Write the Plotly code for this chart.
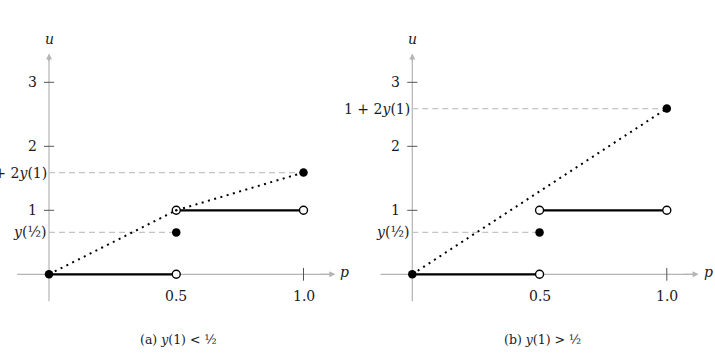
import plotly.graph_objects as go

# ---- data ----
P_TICKS = [0.5, 1.0]
P_TICK_LABELS = ["0.5", "1.0"]
U_TICKS = [1, 2, 3]
U_TICK_LABELS = ["1", "2", "3"]
Y_HALF = 0.655          # y(1/2)
Y1_A = 0.295            # y(1) in panel (a)
Y1_B = 0.795            # y(1) in panel (b)
CAPTIONS = ["(a) <i>y</i>(1) &lt; ½", "(b) <i>y</i>(1) &gt; ½"]
TOP_LABEL = "1 + 2<i>y</i>(1)"
HALF_LABEL = "<i>y</i>(½)"

AX_GRAY = "#b4b4b4"
DASH_GRAY = "#c4c4c4"
FONT = "DejaVu Serif"
TXT = "#1a1a1a"
FS = 14

fig = go.Figure()

panels = [
    dict(xa="x", ya="y", y1=Y1_A, dotted_via_half=True, caption=CAPTIONS[0]),
    dict(xa="x2", ya="y2", y1=Y1_B, dotted_via_half=False, caption=CAPTIONS[1]),
]

annotations = []

def add(xa, ya, **kw):
    fig.add_trace(go.Scatter(xaxis=xa, yaxis=ya, showlegend=False, hoverinfo="skip", **kw))

for pn in panels:
    xa, ya = pn["xa"], pn["ya"]
    top = 1 + 2 * pn["y1"]
    # axes lines
    add(xa, ya, x=[-0.125, 1.11], y=[0, 0], mode="lines", line=dict(color=AX_GRAY, width=1.2))
    add(xa, ya, x=[0, 0], y=[-0.42, 3.42], mode="lines", line=dict(color=AX_GRAY, width=1.2))
    # ticks
    for u in U_TICKS:
        add(xa, ya, x=[-0.02, 0.02], y=[u, u], mode="lines", line=dict(color="#555555", width=1))
    add(xa, ya, x=[1.0, 1.0], y=[-0.1, 0.1], mode="lines", line=dict(color="#555555", width=1))
    # dashed helpers
    add(xa, ya, x=[0, 0.5], y=[Y_HALF, Y_HALF], mode="lines",
        line=dict(color=DASH_GRAY, width=1.2, dash="6px,4px"))
    add(xa, ya, x=[0, 1.0], y=[top, top], mode="lines",
        line=dict(color=DASH_GRAY, width=1.2, dash="6px,4px"))
    # dotted line
    if pn["dotted_via_half"]:
        dx, dy = [0, 0.5, 1.0], [0, 1, top]
    else:
        dx, dy = [0, 1.0], [0, top]
    add(xa, ya, x=dx, y=dy, mode="lines", line=dict(color="black", width=2, dash="2px,4.5px"))
    # solid segments
    add(xa, ya, x=[0, 0.5], y=[0, 0], mode="lines", line=dict(color="black", width=2.2))
    add(xa, ya, x=[0.5, 1.0], y=[1, 1], mode="lines", line=dict(color="black", width=2.2))
    # open circles
    add(xa, ya, x=[0.5, 0.5, 1.0], y=[0, 1, 1], mode="markers",
        marker=dict(symbol="circle", size=8, color="white", line=dict(color="black", width=1.4)))
    if pn["dotted_via_half"]:
        add(xa, ya, x=[0.5], y=[1], mode="markers", marker=dict(symbol="circle", size=2.5, color="black"))
    # filled dots
    add(xa, ya, x=[0, 0.5, 1.0], y=[0, Y_HALF, top], mode="markers",
        marker=dict(symbol="circle", size=8.5, color="black"))

    xr, yr = xa, ya
    # arrow heads
    annotations.append(dict(x=1.125, y=0, ax=1.06, ay=0, xref=xr, yref=yr, axref=xr, ayref=yr,
                            text="", showarrow=True, arrowhead=2, arrowsize=1, arrowwidth=1.2,
                            arrowcolor=AX_GRAY))
    annotations.append(dict(x=0, y=3.45, ax=0, ay=3.3, xref=xr, yref=yr, axref=xr, ayref=yr,
                            text="", showarrow=True, arrowhead=2, arrowsize=1, arrowwidth=1.2,
                            arrowcolor=AX_GRAY))
    # axis labels
    annotations.append(dict(x=0, y=3.67, xref=xr, yref=yr, text="<i>u</i>", showarrow=False,
                            font=dict(size=FS, color=TXT), xanchor="center", yanchor="middle"))
    annotations.append(dict(x=1.125, y=0.04, xref=xr, yref=yr, text="<i>p</i>", showarrow=False,
                            font=dict(size=FS, color=TXT), xanchor="left", yanchor="middle", xshift=3))
    # u tick labels
    for u, lab in zip(U_TICKS, U_TICK_LABELS):
        annotations.append(dict(x=0, y=u, xref=xr, yref=yr, text=lab, showarrow=False,
                                font=dict(size=FS, color=TXT), xanchor="right", yanchor="middle",
                                xshift=-10))
    annotations.append(dict(x=0, y=Y_HALF, xref=xr, yref=yr, text=HALF_LABEL, showarrow=False,
                            font=dict(size=FS, color=TXT), xanchor="right", yanchor="middle",
                            xshift=-1))
    annotations.append(dict(x=0, y=top, xref=xr, yref=yr, text=TOP_LABEL, showarrow=False,
                            font=dict(size=FS, color=TXT), xanchor="right", yanchor="middle",
                            xshift=0))
    # p tick labels
    for p, lab in zip(P_TICKS, P_TICK_LABELS):
        annotations.append(dict(x=p, y=-0.34, xref=xr, yref=yr, text=lab, showarrow=False,
                                font=dict(size=FS, color=TXT), xanchor="center", yanchor="middle"))
    # caption
    annotations.append(dict(x=0.51, y=-1.02, xref=xr, yref=yr, text=pn["caption"], showarrow=False,
                            font=dict(size=12.5, color=TXT), xanchor="center", yanchor="middle"))

YR = [(274.3 - 356) / 64, 274.3 / 64]
ax_common = dict(visible=False, showgrid=False, zeroline=False, fixedrange=True)
fig.update_layout(
    width=715, height=356,
    margin=dict(l=0, r=0, t=0, b=0),
    paper_bgcolor="white", plot_bgcolor="white",
    font=dict(family=FONT),
    xaxis=dict(domain=[0, 0.5], range=[(0 - 49) / 254.5, (357.5 - 49) / 254.5], **ax_common),
    xaxis2=dict(domain=[0.5, 1], range=[(357.5 - 412.3) / 254.5, (715 - 412.3) / 254.5], **ax_common),
    yaxis=dict(domain=[0, 1], range=YR, anchor="x", **ax_common),
    yaxis2=dict(domain=[0, 1], range=YR, anchor="x2", **ax_common),
    annotations=annotations,
)

fig.write_html("out.html")
